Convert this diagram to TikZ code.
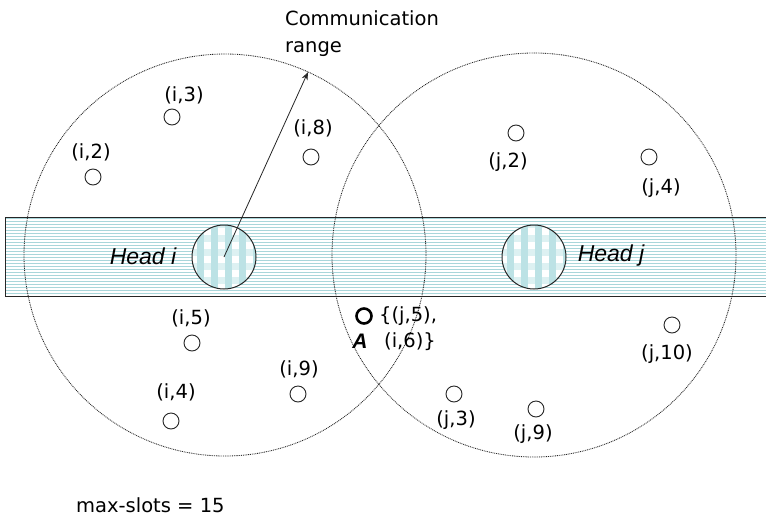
\documentclass[tikz,border=0pt]{standalone}
\usepackage{fontspec}
\setmainfont{DejaVu Sans}
\newfontfamily\headfont{Liberation Sans}
\usetikzlibrary{arrows.meta}
\definecolor{stripe}{HTML}{A9D6DA}
\definecolor{cellA}{HTML}{BCE2E5}
\definecolor{cellB}{HTML}{DDF1F2}
\tikzset{
  commrange/.style={draw=black!85, line width=0.85pt, dash pattern=on 0.9pt off 0.9pt},
  sensor/.style={circle, draw=black!85, line width=0.9pt, minimum size=16pt, inner sep=0pt},
  lbl/.style={font=\fontsize{19.5}{22}\selectfont, inner sep=0pt},
  headlbl/.style={font=\headfont\fontsize{23}{25}\selectfont\itshape, inner sep=0pt},
}
\begin{document}
\begin{tikzpicture}[x=1pt,y=-1pt]
\useasboundingbox (0,0) rectangle (766,520);
\fill[white] (0,0) rectangle (766,520);

% striped band through both cluster heads
\begin{scope}
  \clip (5,217) rectangle (770,296);
  \foreach \y in {218.5,221.5,...,296} \draw[stripe, line width=1.2pt] (5,\y) -- (770,\y);
\end{scope}
\draw[black!85, line width=1pt] (770,217) -- (5,217) -- (5,296) -- (770,296);

% communication ranges
\draw[commrange] (225,255) circle[radius=201];
\draw[commrange] (534,255) circle[radius=202];

% cluster heads with plaid fill
\foreach \cx/\nm in {224/hi, 534/hj} {
  \begin{scope}
    \clip (\cx,257) circle[radius=32];
    \fill[cellB] (\cx-34,223) rectangle (\cx+34,291);
    \foreach \i in {0,...,4} \fill[cellA] (\cx-27+\i*14,223) rectangle ++(7,68);
    \foreach \i in {0,...,4} \foreach \j in {0,...,4}
      \fill[white] (\cx-34+\i*14,228+\j*14) rectangle ++(7,7);
  \end{scope}
  \node[circle, draw=black!85, line width=1pt, minimum size=64pt, inner sep=0pt] (\nm) at (\cx,257) {};
}
\node[headlbl] (lhi) at (143,256) {Head i};
\node[headlbl] (lhj) at (611,256) {Head j};

% range arrow
\coordinate (rangetip) at (308,72);
\draw[black!85, line width=0.8pt, -{Stealth[length=8pt,width=6pt]}] (hi.center) -- (rangetip);
\node[lbl, anchor=west] (comm) at (285,18) {Communication};
\node[lbl, anchor=west] (rng) at (285,49) {range};

% members of cluster i
\node[sensor] (i3) at (172,117) {};
\node[lbl] (li3) at (184,95) {(i,3)};
\node[sensor] (i2) at (93,177) {};
\node[lbl] (li2) at (91,152) {(i,2)};
\node[sensor] (i8) at (311,157) {};
\node[lbl] (li8) at (313,128) {(i,8)};
\node[sensor] (i5) at (192,343) {};
\node[lbl] (li5) at (191,318) {(i,5)};
\node[sensor] (i9) at (298,394) {};
\node[lbl] (li9) at (299,369) {(i,9)};
\node[sensor] (i4) at (171,421) {};
\node[lbl] (li4) at (176,392) {(i,4)};

% members of cluster j
\node[sensor] (j2) at (516,133) {};
\node[lbl] (lj2) at (508,162) {(j,2)};
\node[sensor] (j4) at (649,157) {};
\node[lbl] (lj4) at (661,188) {(j,4)};
\node[sensor] (j10) at (672,325) {};
\node[lbl] (lj10) at (667,354) {(j,10)};
\node[sensor] (j3) at (454,394) {};
\node[lbl] (lj3) at (456,420) {(j,3)};
\node[sensor] (j9) at (536,409) {};
\node[lbl] (lj9) at (533,434) {(j,9)};

% shared node A
\node[circle, draw=black, line width=2.6pt, minimum size=15pt, inner sep=0pt] (A) at (364,316) {};
\node[headlbl, font=\headfont\fontsize{21}{23}\selectfont\bfseries\itshape] (lA) at (360,341) {A};
\node[lbl, anchor=west] (lA1) at (379,316) {\{(j,5),};
\node[lbl, anchor=west] (lA2) at (384,342) {(i,6)\}};

\node[lbl, anchor=west] (slots) at (76,505) {max-slots = 15};
\end{tikzpicture}
\end{document}
